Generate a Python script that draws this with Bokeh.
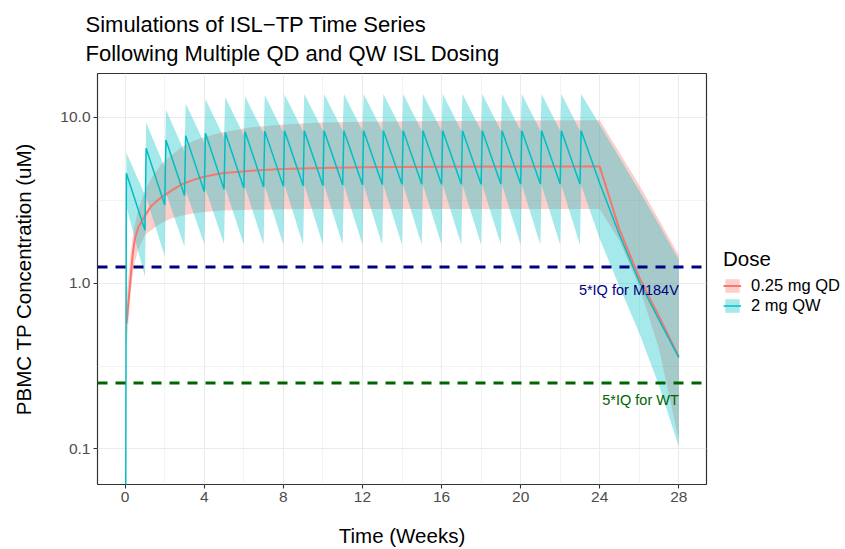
from bokeh.plotting import figure
from bokeh.models import (Range1d, FixedTicker, PrintfTickFormatter, Span, Label,
                          Legend, LegendItem, Title)
from bokeh.embed import file_html
from bokeh.resources import INLINE

FONT = "Liberation Sans"

# ---------------- data ----------------
# 0.25 mg QD (daily dosing, weeks 0-24, then washout)
qd_week = [0.07, 0.27, 0.37, 0.49, 0.67, 1.0, 1.33, 1.83, 2.34, 2.84, 3.35, 3.85,
           4.86, 6.38, 7.9, 9.9, 12, 16, 20, 24, 25, 26, 27, 28]
qd_median = [0.57, 1.06, 1.45, 1.85, 2.17, 2.55, 2.93, 3.29, 3.61, 3.93, 4.15, 4.34,
             4.59, 4.76, 4.88, 4.95, 5.0, 5.03, 5.04, 5.04, 2.1, 1.08, 0.63, 0.36]
qd_lower = [0.41, 0.85, 1.1, 1.35, 1.6, 1.95, 2.1, 2.3, 2.45, 2.55, 2.62, 2.67,
            2.74, 2.77, 2.79, 2.8, 2.8, 2.8, 2.8, 2.8, 1.8, 0.95, 0.4, 0.114]
qd_upper = [0.82, 1.5, 1.85, 2.25, 2.8, 3.6, 4.3, 5.2, 5.9, 6.6, 7.1, 7.5,
            8.1, 8.7, 9.0, 9.3, 9.4, 9.5, 9.55, 9.6, 6.1, 3.9, 2.4, 1.47]

# 2 mg QW (weekly dosing, weeks 0-23, then washout)
qw_dose_week = [0, 1, 2, 3, 4, 5, 6, 7, 8, 9, 10, 11, 12, 13, 14, 15, 16, 17, 18, 19,
                20, 21, 22, 23]
qw_peak_lag = 0.06
qw_pre_dose = 0.001
qw_peak = [4.6, 6.5, 7.3, 7.75, 8.0, 8.1, 8.2, 8.25, 8.3, 8.3, 8.3, 8.3, 8.3, 8.3,
           8.3, 8.3, 8.3, 8.3, 8.3, 8.3, 8.3, 8.3, 8.3, 8.3]
qw_trough = [2.08, 2.96, 3.37, 3.56, 3.68, 3.75, 3.8, 3.83, 3.86, 3.88, 3.9, 3.92,
             3.93, 3.94, 3.95, 3.95, 3.95, 3.95, 3.96, 3.96, 3.96, 3.96, 3.96]
qw_peak_upper = [6.1, 9.3, 11.1, 12.1, 12.9, 13.2, 13.4, 13.6, 13.7, 13.8, 13.8, 13.8,
                 13.8, 13.8, 13.8, 13.8, 13.8, 13.8, 13.8, 13.8, 13.8, 13.8, 13.8, 13.8]
qw_trough_upper = [3.4, 5.0, 6.2, 7.0, 7.5, 7.8, 8.0, 8.1, 8.2, 8.3, 8.3, 8.3, 8.3,
                   8.3, 8.3, 8.3, 8.3, 8.3, 8.3, 8.3, 8.3, 8.3, 8.3]
qw_peak_lower = [2.9, 3.3, 3.5, 3.6, 3.7, 3.75, 3.8, 3.85, 3.9, 3.9, 3.9, 3.9, 3.9,
                 3.9, 3.9, 3.9, 3.9, 3.9, 3.9, 3.9, 3.9, 3.9, 3.9, 3.9]
qw_trough_lower = [1.09, 1.45, 1.65, 1.72, 1.72, 1.7, 1.7, 1.7, 1.7, 1.7, 1.7, 1.7,
                   1.7, 1.7, 1.7, 1.7, 1.7, 1.7, 1.7, 1.7, 1.7, 1.7, 1.7]
qw_post_week = [24, 25, 26, 27, 28]
qw_post_median = [4.0, 1.95, 1.02, 0.6, 0.355]
qw_post_lower = [1.85, 0.95, 0.5, 0.24, 0.103]
qw_post_upper = [9.0, 5.7, 3.6, 2.25, 1.38]

x_ticks = [0, 4, 8, 12, 16, 20, 24, 28]
x_minor = [2, 6, 10, 14, 18, 22, 26]
y_ticks = [0.1, 1.0, 10.0]
y_minor = [0.316, 3.162]

iq_m184v = 1.25
iq_wt = 0.25

# ---------------- assemble QW series ----------------
qw_line_t = [qw_dose_week[0]]
qw_line_v = [qw_pre_dose]
qw_band_t, qw_band_lo, qw_band_hi = [], [], []
for k, d in enumerate(qw_dose_week):
    qw_line_t.append(d + qw_peak_lag)
    qw_line_v.append(qw_peak[k])
    qw_band_t.append(d + qw_peak_lag)
    qw_band_lo.append(qw_peak_lower[k])
    qw_band_hi.append(qw_peak_upper[k])
    if k < len(qw_trough):
        nxt = qw_dose_week[k + 1]
        qw_line_t.append(nxt)
        qw_line_v.append(qw_trough[k])
        qw_band_t.append(nxt)
        qw_band_lo.append(qw_trough_lower[k])
        qw_band_hi.append(qw_trough_upper[k])
qw_line_t += qw_post_week
qw_line_v += qw_post_median
qw_band_t += qw_post_week
qw_band_lo += qw_post_lower
qw_band_hi += qw_post_upper

RED = "#F8766D"
TEAL = "#00BFC4"

p = figure(frame_width=609, frame_height=411,
           x_range=Range1d(-1.4, 29.4), y_range=Range1d(10 ** -1.215, 10 ** 1.264),
           y_axis_type="log", output_backend="svg", toolbar_location=None,
           min_border_left=97, min_border_right=139, min_border_top=73,
           min_border_bottom=64, title_location=None)
p.background_fill_color = "white"
p.border_fill_color = "white"
p.outline_line_color = "#333333"
p.outline_line_width = 1.2

# two-line title
title = Title(text="Simulations of ISL\u2212TP Time Series\nFollowing Multiple QD and QW ISL Dosing",
              align="left", offset=-12, text_font=FONT, text_font_size="22px",
              text_font_style="normal", text_color="black", text_line_height=1.15,
              standoff=15)
p.add_layout(title, "above")

# axes
xt = FixedTicker(ticks=x_ticks, minor_ticks=x_minor)
yt = FixedTicker(ticks=y_ticks, minor_ticks=y_minor)
p.xaxis.ticker = xt
p.yaxis.ticker = yt
p.xgrid.ticker = xt
p.ygrid.ticker = yt
p.yaxis.formatter = PrintfTickFormatter(format="%.1f")
p.xaxis.axis_label = "Time (Weeks)"
p.yaxis.axis_label = "PBMC TP Concentration (uM)"
for ax in (p.xaxis[0], p.yaxis[0]):
    ax.axis_line_color = None
    ax.major_tick_line_color = "#333333"
    ax.major_tick_line_width = 1.1
    ax.major_tick_out = 4
    ax.major_tick_in = 0
    ax.minor_tick_line_color = None
    ax.minor_tick_out = 0
    ax.major_label_text_font = FONT
    ax.major_label_text_font_size = "15.5px"
    ax.major_label_text_color = "#4D4D4D"
    ax.axis_label_text_font = FONT
    ax.axis_label_text_font_size = "20.5px"
    ax.axis_label_text_font_style = "normal"
    ax.axis_label_text_color = "black"
p.xaxis.major_label_standoff = 3
p.xaxis.axis_label_standoff = 19
p.yaxis.major_label_standoff = 3
p.yaxis.axis_label_standoff = 22

for g in (p.xgrid[0], p.ygrid[0]):
    g.grid_line_color = "#EBEBEB"
    g.grid_line_width = 1.1
    g.minor_grid_line_color = "#EBEBEB"
    g.minor_grid_line_width = 0.6

# ribbons
r_qd_band = p.varea(x=qd_week, y1=qd_lower, y2=qd_upper, fill_color=RED, fill_alpha=0.35)
r_qw_band = p.varea(x=qw_band_t, y1=qw_band_lo, y2=qw_band_hi, fill_color=TEAL,
                    fill_alpha=0.35)
# lines
r_qd_line = p.line(qd_week, qd_median, line_color=RED, line_width=2)
r_qw_line = p.line(qw_line_t, qw_line_v, line_color=TEAL, line_width=1.5)

# reference lines
p.add_layout(Span(location=iq_m184v, dimension="width", line_color="navy",
                  line_width=3, line_dash="10 8"))
p.add_layout(Span(location=iq_wt, dimension="width", line_color="darkgreen",
                  line_width=3, line_dash="10 8"))
p.add_layout(Label(x=28, y=0.904, text="5*IQ for M184V", text_align="right",
                   text_baseline="middle", text_color="navy", text_font=FONT,
                   text_font_size="14.5px"))
p.add_layout(Label(x=28, y=0.197, text="5*IQ for WT", text_align="right",
                   text_baseline="middle", text_color="darkgreen", text_font=FONT,
                   text_font_size="14.5px"))

legend = Legend(items=[LegendItem(label="0.25 mg QD", renderers=[r_qd_band, r_qd_line]),
                       LegendItem(label="2 mg QW", renderers=[r_qw_band, r_qw_line])],
                title="Dose", location=(17, 169))
legend.title_text_font = FONT
legend.title_text_font_size = "20.5px"
legend.title_text_font_style = "normal"
legend.title_text_color = "black"
legend.title_standoff = 5
legend.label_text_font = FONT
legend.label_text_font_size = "16.5px"
legend.label_text_color = "black"
legend.glyph_width = 18
legend.glyph_height = 17
legend.label_height = 17
legend.spacing = 1
legend.label_standoff = 10
legend.padding = 0
legend.margin = 0
legend.border_line_color = None
legend.background_fill_alpha = 0
p.add_layout(legend, "right")

open("out.html", "w").write(file_html(p, INLINE))
